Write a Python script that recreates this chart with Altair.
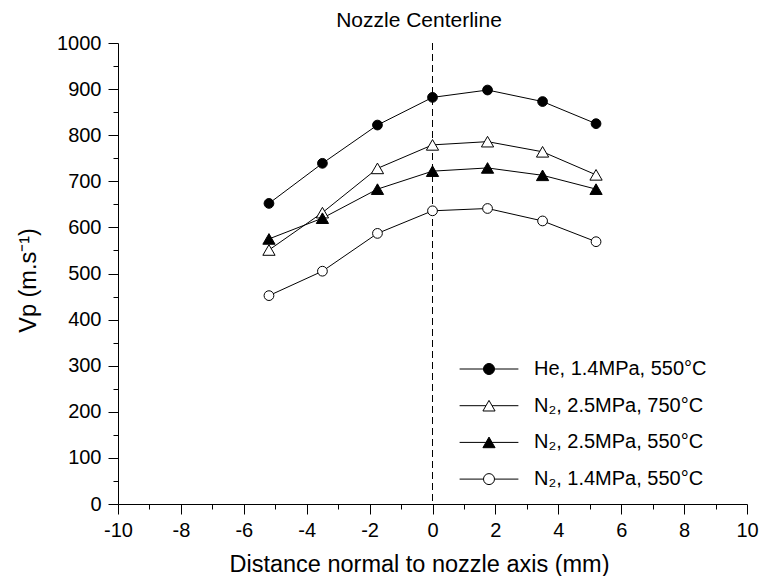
import altair as alt
import pandas as pd

# ---- data ----
x_mm = [-5.2, -3.5, -1.75, 0.0, 1.75, 3.5, 5.2]
series_names = [
    "He, 1.4MPa, 550°C",
    "N₂, 2.5MPa, 750°C",
    "N₂, 2.5MPa, 550°C",
    "N₂, 1.4MPa, 550°C",
]
he_14_550 = [652, 739, 822, 882, 898, 873, 825]
n2_25_750 = [551, 632, 728, 779, 786, 764, 714]
n2_25_550 = [575, 620, 683, 722, 729, 713, 683]
n2_14_550 = [452, 505, 587, 636, 641, 614, 569]
all_values = [he_14_550, n2_25_750, n2_25_550, n2_14_550]
centerline_x = [0.0]
chart_title = "Nozzle Centerline"

marker_shapes = ["circle", "triangle-up", "triangle-up", "circle"]
marker_fills = ["black", "white", "black", "white"]
marker_strokes = ["black", "black", "black", "black"]
# legend symbols: a line with the marker in the middle (unit box scaled by sqrt(size)/2)
circ = "M-4.2,0L-0.786,0M0.786,0L4.2,0M-0.786,0A0.786,0.786,0,1,1,0.786,0A0.786,0.786,0,1,1,-0.786,0Z"
tri = "M-4.2,0L-0.435,0M0.435,0L4.2,0M0,-0.757L0.87,0.757L-0.87,0.757Z"
legend_shapes = [circ, tri, tri, circ]

rows = []
for name, vals in zip(series_names, all_values):
    for xv, v in zip(x_mm, vals):
        rows.append({"x": xv, "vp": v, "series": name, "legend": name})
df = pd.DataFrame(rows)

FONT = "Liberation Sans"

xscale = alt.Scale(domain=[-10, 10], nice=False, zero=False)
yscale = alt.Scale(domain=[0, 1000], nice=False, zero=False)

xaxis = alt.Axis(
    values=list(range(-10, 11)),
    labelExpr="datum.value % 2 === 0 ? '' + datum.value : ''",
    tickSize={"condition": {"test": "datum.value % 2 === 0", "value": 10}, "value": 5},
    labelOverlap=False, labelBound=False, labelFlush=False,
    labelPadding=6, labelFontSize=20, labelFont=FONT, labelColor="black",
    title="Distance normal to nozzle axis (mm)",
    titleFontSize=23.5, titleFont=FONT, titleFontWeight="normal", titleColor="black",
    titleX=301, titleY=67, titleBaseline="alphabetic", titleAlign="center",
    domainColor="black", tickColor="black", domainWidth=1, tickWidth=1, grid=False,
)
yaxis = alt.Axis(
    values=list(range(0, 1001, 50)),
    labelExpr="datum.value % 100 === 0 ? '' + datum.value : ''",
    tickSize={"condition": {"test": "datum.value % 100 === 0", "value": 10}, "value": 5},
    labelOverlap=False, labelBound=False, labelFlush=False,
    labelPadding=7, labelFontSize=20, labelFont=FONT, labelColor="black",
    title="Vp (m.s⁻¹)",
    titleFontSize=23.5, titleFont=FONT, titleFontWeight="normal", titleColor="black",
    titleX=-83, titleY=237, titleBaseline="alphabetic", titleAlign="center", titleAngle=-90,
    domainColor="black", tickColor="black", domainWidth=1, tickWidth=1, grid=False,
)

base = alt.Chart(df)

rule = alt.Chart(pd.DataFrame({"x": centerline_x})).mark_rule(
    color="black", strokeWidth=1, strokeDash=[7, 4]
).encode(x=alt.X("x:Q", scale=xscale, axis=xaxis))

lines = base.mark_line(color="black", strokeWidth=1).encode(
    x=alt.X("x:Q", scale=xscale, axis=xaxis),
    y=alt.Y("vp:Q", scale=yscale, axis=yaxis),
    detail="series:N",
)

points = base.mark_point(filled=True, stroke="black", strokeWidth=1, opacity=1).encode(
    x=alt.X("x:Q", scale=xscale, axis=xaxis),
    y=alt.Y("vp:Q", scale=yscale, axis=yaxis),
    shape=alt.Shape("series:N", scale=alt.Scale(domain=series_names, range=marker_shapes), legend=None),
    fill=alt.Fill("series:N", scale=alt.Scale(domain=series_names, range=marker_fills), legend=None),
    size=alt.condition("datum.series == '%s' || datum.series == '%s'" % (series_names[1], series_names[2]),
                       alt.value(150), alt.value(95)),
)

legend_kw = dict(
    title=None, orient="none", legendX=361, legendY=316,
    symbolSize=196, symbolStrokeColor="black", symbolStrokeWidth=1,
    symbolOpacity=1, labelOffset=35, labelFontSize=20,
    labelFont=FONT, labelColor="black", rowPadding=16.7,
    padding=0, labelLimit=400,
)

legend_layer = base.transform_filter("false").mark_point(
    filled=True, strokeWidth=1, size=196, opacity=1
).encode(
    x=alt.X("x:Q", scale=xscale, axis=xaxis),
    y=alt.Y("vp:Q", scale=yscale, axis=yaxis),
    shape=alt.Shape("legend:N", scale=alt.Scale(domain=series_names, range=legend_shapes),
                    legend=alt.Legend(**legend_kw)),
    fill=alt.Fill("legend:N", scale=alt.Scale(domain=series_names, range=marker_fills),
                  legend=alt.Legend(**legend_kw)),
    stroke=alt.Stroke("legend:N", scale=alt.Scale(domain=series_names, range=marker_strokes),
                      legend=alt.Legend(**legend_kw)),
)

chart = alt.layer(rule, lines, points, legend_layer).resolve_scale(
    shape="independent", fill="independent", stroke="independent"
).properties(
    width=629, height=461,
    autosize=alt.AutoSizeParams(type="none"),
    padding={"left": 118, "top": 43, "right": 12, "bottom": 72},
    title=alt.TitleParams(chart_title, fontSize=21, font=FONT, fontWeight="normal",
                          anchor="middle", offset=2, color="black",
                          frame="group", dx=-13.5),
    background="white",
).configure_view(stroke=None)

chart.save("out.html", embed_options={"renderer": "svg", "actions": False})
